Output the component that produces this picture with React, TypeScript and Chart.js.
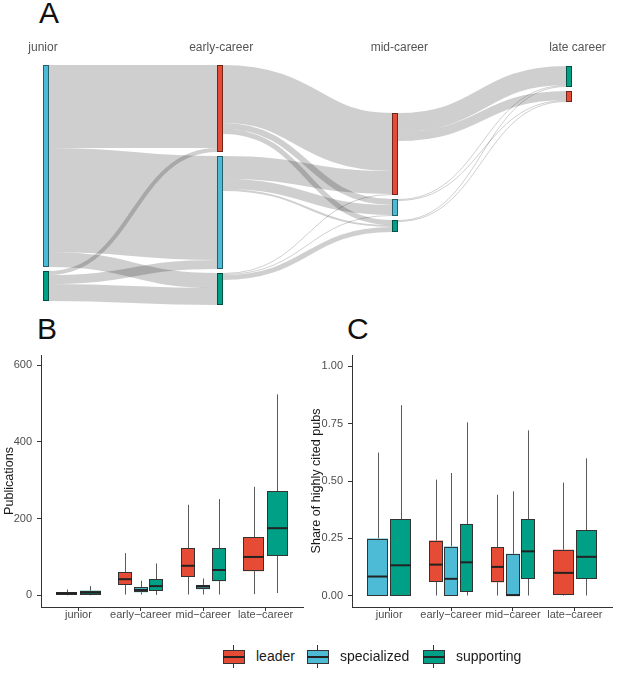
import React, { useEffect, useRef } from "react";
import { Chart, registerables } from "chart.js";

Chart.register(...registerables);

const FONT = '"Liberation Sans", Arial, Helvetica, sans-serif';

// ---------- shared ----------
const roleNames = ["leader", "specialized", "supporting"];
const roleColors = ["#E64B35", "#4DBBD5", "#00A087"];

// ---------- panel A (Sankey) ----------
const stageLabels = ["junior", "early-career", "mid-career", "late career"];
// nodes in top-to-bottom order within each stage
const nodeStage = [0, 0, 1, 1, 1, 2, 2, 2, 3, 3];
const nodeRole = [1, 2, 0, 1, 2, 0, 1, 2, 2, 0];
// flows between nodes
const flowFrom = [0, 0, 0, 1, 1, 1, 2, 2, 2, 3, 3, 3, 4, 4, 4, 5, 5, 6, 6, 7, 7];
const flowTo = [2, 3, 4, 2, 3, 4, 5, 6, 7, 5, 6, 7, 5, 6, 7, 8, 9, 8, 9, 8, 9];
const flowValue = [83, 104, 15, 4, 9, 17, 58, 6, 5, 23, 10, 2, 1, 1, 5, 19, 9, 1, 1, 1, 1];

// ---------- panels B & C (boxplots) ----------
const boxCategories = ["junior", "early\u2212career", "mid\u2212career", "late\u2212career"];
// [lower whisker, Q1, median, Q3, upper whisker] per stage; null = role absent
const pubsLeader = [null, [2, 27, 42, 60, 110], [2, 49, 77, 123, 236], [3, 63, 100, 152, 283]];
const pubsSpecialized = [[0, 2, 5, 8, 15], [2, 8, 14, 21, 38], [2, 16, 23, 27, 44], null];
const pubsSupporting = [[0, 2, 7, 12, 24], [1, 12, 24, 42, 83], [2, 37, 66, 123, 251], [6, 103, 175, 272, 524]];
const pubTicks = [0, 200, 400, 600];

const shareLeader = [null, [0, 0.06, 0.135, 0.24, 0.506], [0, 0.058, 0.125, 0.211, 0.44], [0, 0.003, 0.099, 0.2, 0.493]];
const shareSpecialized = [[0, 0, 0.083, 0.249, 0.624], [0, 0, 0.073, 0.214, 0.535], [0, 0, 0.002, 0.182, 0.455], null];
const shareSupporting = [[0, 0, 0.132, 0.333, 0.831], [0, 0.0175, 0.145, 0.3125, 0.756], [0, 0.073, 0.193, 0.333, 0.721], [0, 0.074, 0.169, 0.285, 0.599]];
const shareTicks = [0, 0.25, 0.5, 0.75, 1];

function darken(hex: string, k: number) {
  const n = parseInt(hex.slice(1), 16);
  const r = Math.round(((n >> 16) & 255) * k);
  const g = Math.round(((n >> 8) & 255) * k);
  const b = Math.round((n & 255) * k);
  return `rgb(${r},${g},${b})`;
}

function SankeyPanel() {
  const ref = useRef<HTMLCanvasElement>(null);
  useEffect(() => {
    const canvas = ref.current!;
    const n = nodeStage.length;
    const inSum = new Array(n).fill(0);
    const outSum = new Array(n).fill(0);
    flowValue.forEach((v, i) => {
      outSum[flowFrom[i]] += v;
      inSum[flowTo[i]] += v;
    });
    const nodeVal = inSum.map((v, i) => Math.max(v, outSum[i]));
    const colOffset = [0, 0, 48, 1];
    const pad = 4;
    const nodeY: number[] = new Array(n);
    const cursor = colOffset.slice();
    for (let i = 0; i < n; i++) {
      const s = nodeStage[i];
      nodeY[i] = cursor[s];
      cursor[s] += nodeVal[i] + pad;
    }
    const idx = flowValue.map((_, i) => i);
    const sy: number[] = [];
    const ty: number[] = [];
    const outC = nodeY.slice();
    const inC = nodeY.slice();
    idx.slice().sort((a, b) => flowFrom[a] - flowFrom[b] || flowTo[a] - flowTo[b]).forEach((i) => {
      sy[i] = outC[flowFrom[i]];
      outC[flowFrom[i]] += flowValue[i];
    });
    idx.slice().sort((a, b) => flowTo[a] - flowTo[b] || flowFrom[a] - flowFrom[b]).forEach((i) => {
      ty[i] = inC[flowTo[i]];
      inC[flowTo[i]] += flowValue[i];
    });
    const labelSpread = 1.022;
    const plugin = {
      id: "sankey",
      afterDraw(chart: any) {
        const { ctx, chartArea } = chart;
        const xs = chart.scales.x;
        const ys = chart.scales.y;
        const nodeW = 6;
        const px = (s: number) => Math.round(xs.getPixelForValue(s));
        const py = (v: number) => ys.getPixelForValue(v);
        const unit = Math.abs(py(1) - py(0));
        ctx.save();
        const linkOrder = idx.slice().sort((a, b) => flowValue[b] - flowValue[a]);
        ctx.lineCap = "butt";
        for (const i of linkOrder) {
          const s = nodeStage[flowFrom[i]];
          const x0 = px(s) + nodeW;
          const x1 = px(s + 1);
          const y0 = py(sy[i] + flowValue[i] / 2);
          const y1 = py(ty[i] + flowValue[i] / 2);
          const xm = (x0 + x1) / 2;
          ctx.beginPath();
          ctx.moveTo(x0, y0);
          ctx.bezierCurveTo(xm, y0, xm, y1, x1, y1);
          ctx.lineWidth = Math.max(1, flowValue[i] * unit);
          ctx.strokeStyle = "rgba(0,0,0,0.19)";
          ctx.stroke();
        }
        for (let i = 0; i < n; i++) {
          const xL = px(nodeStage[i]);
          const yT = Math.round(py(nodeY[i]));
          const yB = Math.round(py(nodeY[i] + nodeVal[i]));
          const c = roleColors[nodeRole[i]];
          ctx.fillStyle = c;
          ctx.fillRect(xL, yT, nodeW, yB - yT);
          ctx.strokeStyle = darken(c, 0.5);
          ctx.lineWidth = 1;
          ctx.strokeRect(xL + 0.5, yT + 0.5, nodeW - 1, yB - yT - 1);
        }
        ctx.font = `12px ${FONT}`;
        ctx.fillStyle = "#555555";
        ctx.textAlign = "center";
        ctx.textBaseline = "middle";
        stageLabels.forEach((t, s) => {
          const w = ctx.measureText(t).width;
          let cx = xs.getPixelForValue(s * labelSpread);
          cx = Math.min(cx, chartArea.right - w / 2);
          ctx.fillText(t, cx, chartArea.top - 17.5);
        });
        ctx.restore();
      },
    };
    const chart = new Chart(canvas, {
      type: "scatter",
      data: { datasets: [{ data: [] }] },
      options: {
        animation: false,
        responsive: false,
        maintainAspectRatio: false,
        layout: { padding: { left: 43, right: 11, top: 35, bottom: 7 } },
        plugins: { legend: { display: false }, tooltip: { enabled: false } },
        scales: {
          x: { type: "linear", display: false, min: 0, max: 3.2295 },
          y: { type: "linear", display: false, min: 0, max: 240, reverse: true },
        },
      },
      plugins: [plugin],
    } as any);
    return () => chart.destroy();
  }, []);
  return (
    <canvas
      ref={ref}
      width={617}
      height={282}
      style={{ position: "absolute", left: 0, top: 30, width: 617, height: 282 }}
    />
  );
}

type BoxSeries = (number[] | null)[];

function BoxPanel(props: {
  left: number;
  width: number;
  yAxisWidth: number;
  series: BoxSeries[];
  yMin: number;
  yMax: number;
  yTicks: number[];
  fmt: (v: number) => string;
  title: string;
}) {
  const ref = useRef<HTMLCanvasElement>(null);
  useEffect(() => {
    const canvas = ref.current!;
    const { series } = props;
    const plugin = {
      id: "boxes",
      afterDatasetsDraw(chart: any) {
        const { ctx } = chart;
        const xs = chart.scales.x;
        const ys = chart.scales.y;
        ctx.save();
        for (let c = 0; c < boxCategories.length; c++) {
          const present = series.map((s, r) => (s[c] ? r : -1)).filter((r) => r >= 0);
          const m = present.length;
          const slot = 0.75 / m;
          const bw = slot * 0.9;
          present.forEach((r, k) => {
            const st = series[r][c]!;
            const center = c + 1 - 0.375 + slot * (k + 0.5);
            const xc = xs.getPixelForValue(center);
            const half = (xs.getPixelForValue(bw) - xs.getPixelForValue(0)) / 2;
            const xl = Math.round(xc - half);
            const xr = Math.round(xc + half);
            const xm = Math.round(xc) + 0.5;
            const yLo = ys.getPixelForValue(st[0]);
            const yQ1 = ys.getPixelForValue(st[1]);
            const yMd = ys.getPixelForValue(st[2]);
            const yQ3 = ys.getPixelForValue(st[3]);
            const yHi = ys.getPixelForValue(st[4]);
            ctx.strokeStyle = "#5a5a5a";
            ctx.lineWidth = 1;
            ctx.beginPath();
            ctx.moveTo(xm, yHi);
            ctx.lineTo(xm, yQ3);
            ctx.moveTo(xm, yQ1);
            ctx.lineTo(xm, yLo);
            ctx.stroke();
            ctx.fillStyle = roleColors[r];
            ctx.fillRect(xl, yQ3, xr - xl, yQ1 - yQ3);
            ctx.strokeStyle = "#333333";
            ctx.strokeRect(xl + 0.5, Math.round(yQ3) + 0.5, xr - xl - 1, Math.round(yQ1) - Math.round(yQ3) - 1);
            ctx.strokeStyle = "#222222";
            ctx.lineWidth = 2;
            ctx.beginPath();
            ctx.moveTo(xl, yMd);
            ctx.lineTo(xr, yMd);
            ctx.stroke();
          });
        }
        ctx.restore();
      },
    };
    const zeroPad = (s: any) => {
      s.paddingTop = 0;
      s.paddingBottom = 0;
      s.paddingLeft = 0;
      s.paddingRight = 0;
    };
    const chart = new Chart(canvas, {
      type: "scatter",
      data: { datasets: [{ data: [] }] },
      options: {
        animation: false,
        responsive: false,
        maintainAspectRatio: false,
        layout: { padding: { left: 0, right: 5, top: 10, bottom: 0 } },
        plugins: { legend: { display: false }, tooltip: { enabled: false } },
        scales: {
          x: {
            type: "linear",
            min: 0.4,
            max: 4.6,
            afterBuildTicks: (s: any) => {
              s.ticks = boxCategories.map((_, i) => ({ value: i + 1 }));
            },
            afterFit: (s: any) => {
              s.height = 23;
              zeroPad(s);
            },
            ticks: {
              callback: (v: any) => boxCategories[Math.round(v) - 1],
              font: { family: FONT, size: 11 },
              color: "#4D4D4D",
              padding: -3,
              maxRotation: 0,
              minRotation: 0,
              autoSkip: false,
            },
            grid: { drawOnChartArea: false, drawTicks: true, tickLength: 4, color: "#333333", lineWidth: 1 },
            border: { display: true, color: "#333333", width: 1 },
          },
          y: {
            type: "linear",
            min: props.yMin,
            max: props.yMax,
            afterBuildTicks: (s: any) => {
              s.ticks = props.yTicks.map((v) => ({ value: v }));
            },
            afterFit: (s: any) => {
              s.width = props.yAxisWidth;
              zeroPad(s);
            },
            ticks: {
              callback: (v: any) => props.fmt(v),
              font: { family: FONT, size: 11 },
              color: "#4D4D4D",
              padding: 5,
            },
            title: {
              display: true,
              text: props.title,
              font: { family: FONT, size: 12.6, lineHeight: 1.2 },
              color: "#1A1A1A",
              padding: { top: 2, bottom: 0 },
            },
            grid: { drawOnChartArea: false, drawTicks: true, tickLength: 4, color: "#333333", lineWidth: 1 },
            border: { display: true, color: "#333333", width: 1 },
          },
        },
      },
      plugins: [plugin],
    } as any);
    return () => chart.destroy();
  }, []);
  return (
    <canvas
      ref={ref}
      width={props.width}
      height={285}
      style={{ position: "absolute", left: props.left, top: 345, width: props.width, height: 285 }}
    />
  );
}

function LegendKey({ color }: { color: string }) {
  return (
    <div style={{ position: "relative", width: 22, height: 23 }}>
      <div style={{ position: "absolute", left: 10, top: 0, width: 1.2, height: 23, background: "#333" }} />
      <div
        style={{
          position: "absolute",
          left: 0,
          top: 5,
          width: 22,
          height: 14,
          boxSizing: "border-box",
          border: "1px solid #333",
          background: color,
        }}
      />
      <div style={{ position: "absolute", left: 0, top: 11, width: 22, height: 2, background: "#222" }} />
    </div>
  );
}

const panelLetter = (t: string, left: number, top: number) => (
  <div
    style={{
      position: "absolute",
      left,
      top,
      fontFamily: FONT,
      fontSize: 30,
      lineHeight: "30px",
      color: "#111",
    }}
  >
    {t}
  </div>
);

export default function App() {
  const legendLeft = [223, 307, 423];
  return (
    <div
      style={{
        position: "absolute",
        left: 0,
        top: 0,
        width: 617,
        height: 679,
        background: "#fff",
        overflow: "hidden",
        fontFamily: FONT,
      }}
    >
      {panelLetter("A", 39, -2)}
      {panelLetter("B", 37, 314)}
      {panelLetter("C", 347, 314)}
      <SankeyPanel />
      <BoxPanel
        left={0}
        width={308}
        yAxisWidth={41}
        series={[pubsLeader, pubsSpecialized, pubsSupporting]}
        yMin={-30.5}
        yMax={626.6}
        yTicks={pubTicks}
        fmt={(v) => String(v)}
        title="Publications"
      />
      <BoxPanel
        left={307}
        width={310}
        yAxisWidth={45}
        series={[shareLeader, shareSpecialized, shareSupporting]}
        yMin={-0.05}
        yMax={1.05}
        yTicks={shareTicks}
        fmt={(v) => v.toFixed(2)}
        title="Share of highly cited pubs"
      />
      {roleNames.map((r, i) => (
        <div
          key={r}
          style={{
            position: "absolute",
            left: legendLeft[i],
            top: 645,
            height: 23,
            display: "flex",
            alignItems: "center",
          }}
        >
          <LegendKey color={roleColors[i]} />
          <span style={{ marginLeft: 11, fontSize: 14, color: "#1A1A1A", lineHeight: "23px", whiteSpace: "nowrap" }}>{r}</span>
        </div>
      ))}
    </div>
  );
}
